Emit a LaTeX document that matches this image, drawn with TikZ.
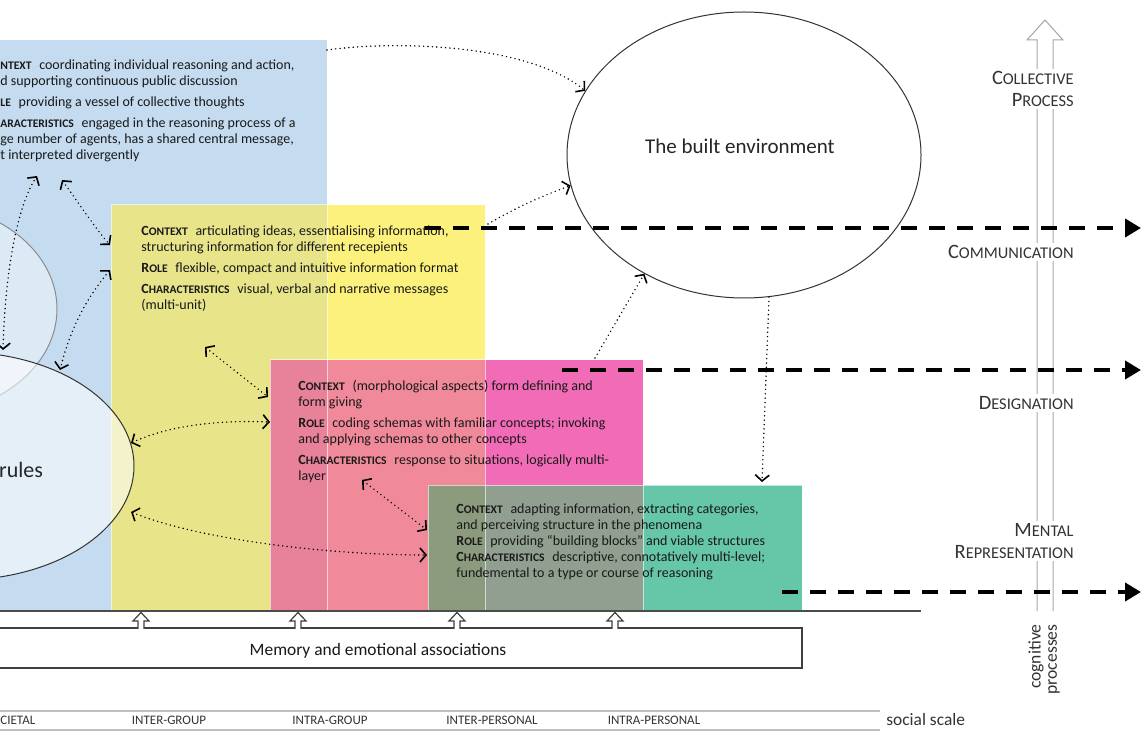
\documentclass[tikz,border=0pt]{standalone}
\usepackage{fontspec}
\setmainfont{Carlito}
\usetikzlibrary{arrows.meta,shapes.geometric,fit}
\definecolor{cB}{HTML}{C5DCF0}
\definecolor{cY}{HTML}{FBF17C}
\definecolor{cYB}{HTML}{E7E48A}
\definecolor{cP}{HTML}{F26BB7}
\definecolor{cPY}{HTML}{F08A9B}
\definecolor{cPYB}{HTML}{E8819A}
\definecolor{cGPY}{HTML}{8C9B7D}
\definecolor{cGP}{HTML}{909F90}
\definecolor{cG}{HTML}{66C6A8}
\newcommand{\kw}[2]{\textbf{#1{\fontsize{5.8pt}{8pt}\selectfont #2}}\hspace{0.55em}}
\newcommand{\kwx}[1]{\textbf{{\fontsize{5.8pt}{8pt}\selectfont #1}}\hspace{0.55em}}
\newcommand{\scl}[2]{#1{\fontsize{8.2pt}{12pt}\selectfont #2}}
\begin{document}
\begin{tikzpicture}[x=0.5pt,y=-0.5pt,
  boxtext/.style={font=\fontsize{7pt}{8pt}\selectfont, align=left, inner sep=0pt, anchor=north west, text=black!90},
  frame/.style={draw=white, draw opacity=0.6, line width=0.5pt, inner sep=0pt},
  dotboth/.style={line width=0.8pt, dash pattern=on 0pt off 2.2pt, line cap=round, {Straight Barb[length=3pt,width=7pt]}-{Straight Barb[length=3pt,width=7pt]}},
  dotto/.style={line width=0.8pt, dash pattern=on 0pt off 2.2pt, line cap=round, -{Straight Barb[length=3pt,width=7pt]}},
  levelarrow/.style={line width=2.2pt, dash pattern=on 8pt off 6pt, -{Triangle[length=8pt,width=9pt]}},
  sidelabel/.style={font=\fontsize{10.2pt}{11pt}\selectfont, fill=white, inner sep=1pt, anchor=east, align=right, text=black!80},
  scalelabel/.style={font=\fontsize{6.5pt}{7pt}\selectfont, text=black!80, inner sep=0pt},
]
\useasboundingbox (0,0) rectangle (1145,732);
% coloured regions
\fill[cB] (-46,40) rectangle (327,610);
\fill[cY] (327,205) rectangle (485,360);
\fill[cYB] (111,205) rectangle (327,360);
\fill[cYB] (111,360) rectangle (270,610);
\fill[cP] (485,360) rectangle (643,485);
\fill[cPY] (327,360) rectangle (485,485);
\fill[cPY] (327,485) rectangle (428,610);
\fill[cPYB] (270,360) rectangle (327,610);
\fill[cGPY] (428,485) rectangle (485,610);
\fill[cGP] (485,485) rectangle (643,610);
\fill[cG] (643,485) rectangle (802,610);
\node[frame, fit={(-46,40) (327,610)}] (bluebox) {};
\node[frame, fit={(111,205) (485,610)}] (yellowbox) {};
\node[frame, fit={(270,360) (643,610)}] (pinkbox) {};
\node[frame, fit={(428,485) (802,610)}] (greenbox) {};
% left ellipses
\node[ellipse, draw=black!45, line width=0.5pt, fill=white, fill opacity=0.4, minimum width=137pt, minimum height=106pt, inner sep=0pt] (upper) at (-80,309) {};
\node[ellipse, draw=black!80, line width=0.5pt, fill=white, fill opacity=0.55, minimum width=174pt, minimum height=114pt, inner sep=0pt] (lower) at (-40,466) {};
\node[font=\fontsize{11pt}{13pt}\selectfont, text=black!85] (rules) at (21,470) {rules};
% box texts (the blue box is cut by the picture's left edge)
\node[boxtext] (bluetext) at (0,59) {\kwx{NTEXT}coordinating individual reasoning and action,\\
d supporting continuous public discussion\\[2.5pt]
\kwx{LE}providing a vessel of collective thoughts\\[2.5pt]
\kwx{ARACTERISTICS}engaged in the reasoning process of a\\
ge number of agents, has a shared central message,\\
t interpreted divergently};
\node[boxtext] (yellowtext) at (141,225) {\kw{C}{ONTEXT}articulating ideas, essentialising information,\\
structuring information for different recepients\\[2.5pt]
\kw{R}{OLE}flexible, compact and intuitive information format\\[2.5pt]
\kw{C}{HARACTERISTICS}visual, verbal and narrative messages\\
(multi-unit)};
\node[boxtext] (pinktext) at (298,380) {\kw{C}{ONTEXT}(morphological aspects) form defining and\\
form giving\\[2.5pt]
\kw{R}{OLE}coding schemas with familiar concepts; invoking\\
and applying schemas to other concepts\\[2.5pt]
\kw{C}{HARACTERISTICS}response to situations, logically multi-\\
layer};
\node[boxtext] (greentext) at (456,503) {\kw{C}{ONTEXT}adapting information, extracting categories,\\
and perceiving structure in the phenomena\\
\kw{R}{OLE}providing “building blocks” and viable structures\\
\kw{C}{HARACTERISTICS}descriptive, connotatively multi-level;\\
fundemental to a type or course of reasoning};
% built environment
\node[ellipse, draw=black!80, line width=0.5pt, fill=white, minimum width=177pt, minimum height=143pt, inner sep=0pt] (be) at (744,155) {};
\node[font=\fontsize{10.5pt}{12pt}\selectfont, text=black!85] (betext) at (740,146) {The built environment};
% memory box
\node[draw=black!75, line width=0.6pt, fill=white, fit={(-10,628) (802,668)}, inner sep=0pt] (memory) {};
\node[font=\fontsize{8.7pt}{10pt}\selectfont, text=black!90] (memtext) at (378,651) {Memory and emotional associations};
\foreach \ux in {141,298,457,615}
  \filldraw[fill=white, draw=black!75, line width=0.6pt] (\ux-3,628.8) -- (\ux-3,621) -- (\ux-8,621) -- (\ux,612.5) -- (\ux+8,621) -- (\ux+3,621) -- (\ux+3,628.8);
% base line
\coordinate (baseL) at (0,611);
\coordinate (baseR) at (921,611);
\draw[black!70, line width=0.8pt] (baseL) -- (baseR);
% social scale
\coordinate (s1L) at (0,711); \coordinate (s1R) at (880,711);
\coordinate (s2L) at (0,730); \coordinate (s2R) at (880,730);
\draw[black!25, line width=0.6pt] (s1L) -- (s1R);
\draw[black!25, line width=0.6pt] (s2L) -- (s2R);
\node[scalelabel, anchor=west] (societal) at (0,720) {CIETAL};
\node[scalelabel] (intergroup) at (169,720) {INTER-GROUP};
\node[scalelabel] (intragroup) at (330,720) {INTRA-GROUP};
\node[scalelabel] (interpersonal) at (492,720) {INTER-PERSONAL};
\node[scalelabel] (intrapersonal) at (654,720) {INTRA-PERSONAL};
\node[font=\fontsize{8.7pt}{10pt}\selectfont, text=black!80, anchor=west, inner sep=0pt] (socialscale) at (886,720) {social scale};
% cognitive process arrow
\draw[black!35, line width=0.5pt] (1037,611) -- (1037,40) -- (1027,40) -- (1045,20) -- (1063,40) -- (1053,40) -- (1053,611);
\node[sidelabel] (collective) at (1076,89) {\scl{C}{OLLECTIVE}\\\scl{P}{ROCESS}};
\node[sidelabel] (communication) at (1076,252) {\scl{C}{OMMUNICATION}};
\node[sidelabel] (designation) at (1076,403) {\scl{D}{ESIGNATION}};
\node[sidelabel] (mental) at (1076,541) {\scl{M}{ENTAL}\\\scl{R}{EPRESENTATION}};
\node[font=\fontsize{8.8pt}{10pt}\selectfont, text=black!80, rotate=90, anchor=east, inner sep=0pt] (cognitive) at (1036,624) {cognitive};
\node[font=\fontsize{8.8pt}{10pt}\selectfont, text=black!80, rotate=90, anchor=east, inner sep=0pt] (processes) at (1054,624) {processes};
% dotted connectors
\coordinate (a1s) at (327,50);
\coordinate (a2s) at (488,224);
\coordinate (a3s) at (595,358);
\coordinate (a4e) at (762,482);
\coordinate (a5s) at (3,350); \coordinate (a5e) at (37,176);
\coordinate (a6s) at (62,180); \coordinate (a6e) at (110,245);
\coordinate (a7s) at (110,270); \coordinate (a7e) at (60,370);
\coordinate (a8s) at (205,347); \coordinate (a8e) at (268,397);
\coordinate (a9s) at (131,443); \coordinate (a9e) at (270,422);
\coordinate (a10s) at (131,512); \coordinate (a10e) at (427,555);
\coordinate (a11s) at (362,480); \coordinate (a11e) at (427,530);
\draw[dotto] (a1s) .. controls (400,40) and (530,45) .. (be.158);
\draw[dotto] (a2s) .. controls (520,205) and (550,193) .. (be.190);
\draw[dotto] (a3s) -- (be.230);
\draw[dotto] (be.280) -- (a4e);
\draw[dotboth] (a5s) .. controls (5,280) and (15,210) .. (a5e);
\draw[dotboth] (a6s) .. controls (80,205) and (95,228) .. (a6e);
\draw[dotboth] (a7s) .. controls (85,300) and (70,330) .. (a7e);
\draw[dotboth] (a8s) -- (a8e);
\draw[dotboth] (a9s) .. controls (170,425) and (220,420) .. (a9e);
\draw[dotboth] (a10s) .. controls (200,540) and (330,555) .. (a10e);
\draw[dotboth] (a11s) -- (a11e);
% level arrows
\coordinate (d1s) at (425,228); \coordinate (d1e) at (1141,228);
\coordinate (d2s) at (562,370); \coordinate (d2e) at (1141,370);
\coordinate (d3s) at (782,592); \coordinate (d3e) at (1141,592);
\draw[levelarrow] (d1s) -- (d1e);
\draw[levelarrow] (d2s) -- (d2e);
\draw[levelarrow] (d3s) -- (d3e);
\end{tikzpicture}
\end{document}
